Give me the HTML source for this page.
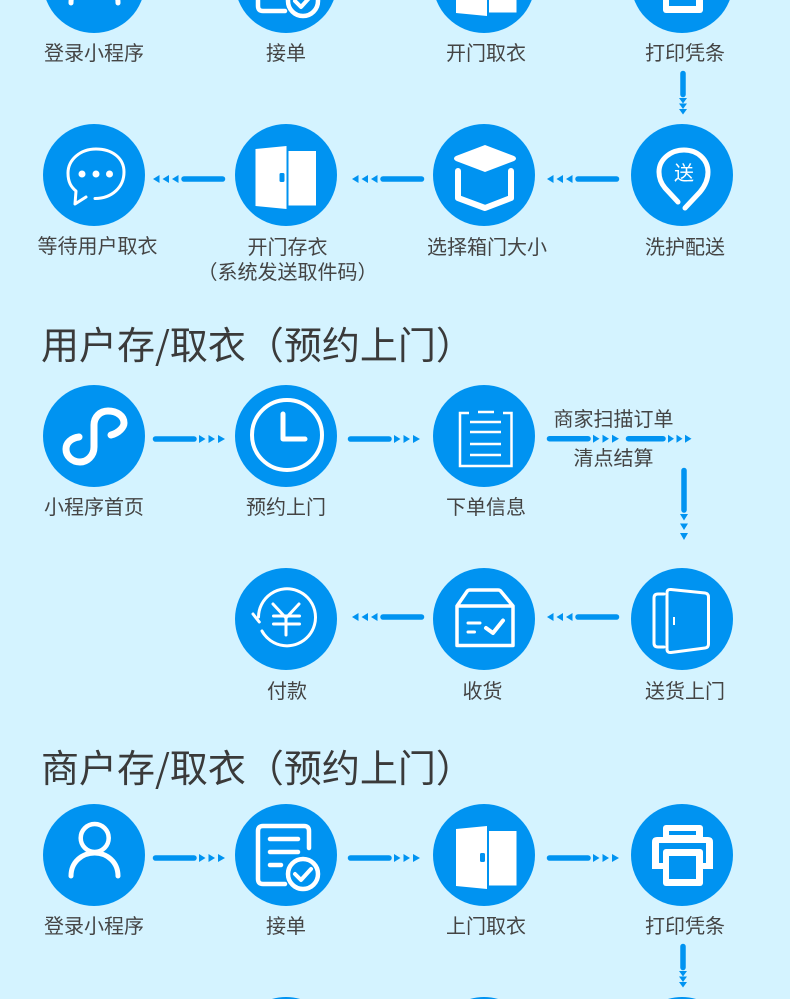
<!DOCTYPE html>
<html lang="zh">
<head>
<meta charset="utf-8">
<title>流程图</title>
<style>
html,body{margin:0;padding:0;background:#d4f3ff;}
body{width:790px;height:999px;overflow:hidden;}
svg{display:block;}
text{font-family:"Liberation Sans","Noto Sans CJK SC",sans-serif;fill:#444;}
.l{font-size:20px;text-anchor:middle;}
.t{font-size:38px;fill:#3a3a3a;font-family:"Noto Sans CJK SC",sans-serif;}
.c{fill:#0093f1;}
.w{fill:none;stroke:#fff;stroke-linecap:round;stroke-linejoin:round;}
.f{fill:#fff;}
.b{fill:#0093f1;}
.ln{stroke:#0093f1;stroke-width:5.5;stroke-linecap:round;fill:none;}
</style>
</head>
<body>
<svg width="790" height="999" viewBox="0 0 790 999" xmlns="http://www.w3.org/2000/svg">
<defs>
  <g id="person">
    <circle cx="0.7" cy="-17" r="14" class="w" stroke-width="4.500"/>
    <path d="M-23 21 C-23 7 -12 -2 0.7 -2 C13 -2 24 7 24 21" class="w" stroke-width="5"/>
  </g>
  <g id="doc">
    <path d="M23 -7 V-24 Q23 -29 18 -29 H-23 Q-28 -29 -28 -24 V24 Q-28 29 -23 29 H-1" class="w" stroke-width="4.500"/>
    <path d="M-16 -16 H12 M-16 -3 H12 M-16 10 H-5" class="w" stroke-width="4.500"/>
    <circle cx="17" cy="19" r="15" class="w" stroke-width="4.500"/>
    <path d="M9 19 L15 25 L25 14" class="w" stroke-width="4"/>
  </g>
  <g id="door">
    <path d="M-28 -26 L3 -29 V34 L-28 31 Z" class="f"/>
    <rect x="5" y="-24" width="27.500" height="54.500" class="f"/>
    <rect x="-4" y="-2" width="5" height="9" rx="1.500" class="b"/>
  </g>
  <g id="printer">
    <rect x="-19" y="-30" width="40" height="16" rx="3" class="f"/>
    <rect x="-13" y="-24" width="27" height="4" class="b"/>
    <path d="M-30 14 V-13 Q-30 -18 -25 -18 H26 Q31 -18 31 -13 V14 Z" class="f"/>
    <rect x="-23" y="-12" width="47" height="20" class="b"/>
    <rect x="-19" y="-6" width="40" height="37" rx="3" class="f"/>
    <rect x="-13" y="1" width="27" height="23" class="b"/>
  </g>
  <g id="rarrow">
    <line x1="3" y1="0" x2="41.500" y2="0" class="ln"/>
    <path d="M46.500 -4 L53 0 L46.500 4 Z M56 -4 L62.500 0 L56 4 Z M65.500 -4 L72.500 0 L65.500 4 Z" class="c"/>
  </g>
  <g id="larrow">
    <line x1="32" y1="0" x2="70.500" y2="0" class="ln"/>
    <path d="M26.500 -4 L20 0 L26.500 4 Z M17 -4 L10.500 0 L17 4 Z M7.500 -4 L1 0 L7.500 4 Z" class="c"/>
  </g>
  <g id="darrow">
    <line x1="0" y1="2.500" x2="0" y2="23.500" class="ln"/>
    <path d="M-4 27 H4 L0 32.500 Z M-4 32.500 H4 L0 38 Z M-4 38 H4 L0 43.500 Z" class="c"/>
  </g>
</defs>

<!-- row 1 -->
<circle cx="94" cy="-18" r="51" class="c"/>
<circle cx="286" cy="-18" r="51" class="c"/>
<circle cx="484" cy="-18" r="51" class="c"/>
<circle cx="682" cy="-18" r="51" class="c"/>
<use href="#person" x="94" y="-18"/>
<use href="#doc" x="286" y="-18"/>
<use href="#door" x="484" y="-18"/>
<use href="#printer" x="682" y="-18"/>
<text class="l" x="94" y="60">登录小程序</text>
<text class="l" x="286" y="60">接单</text>
<text class="l" x="486" y="60">开门取衣</text>
<text class="l" x="685" y="60">打印凭条</text>
<use href="#darrow" x="683" y="71"/>

<!-- row 2 -->
<circle cx="94" cy="175" r="51" class="c"/>
<circle cx="286" cy="175" r="51" class="c"/>
<circle cx="484" cy="175" r="51" class="c"/>
<circle cx="682" cy="175" r="51" class="c"/>
<path d="M95 198.500 C112 198.500 124 187 124 172 C124 158 112 149 96 149 C80 149 68 160 68 173 C68 182 71 187 76 191 L75 204 L86 197" class="w" stroke-width="3"/>
<circle cx="82" cy="174" r="3.500" class="f"/>
<circle cx="96" cy="174" r="3.500" class="f"/>
<circle cx="109.500" cy="174" r="3.500" class="f"/>
<use href="#door" x="283.500" y="175"/>
<path d="M485 145 L514 156 Q518 158.500 514 161 L485 172 L456 161 Q452 158.500 456 156 Z" class="f"/>
<path d="M458 171 V198 L485 208 L511 198 V171" class="w" stroke-width="6"/>
<path d="M678 202 L665 188 C660 182 659 177 659 172 C659 159 671 150 684 150 C698 150 708 160 708 172 C708 180 705 186 700 192 L685 208" class="w" stroke-width="5"/>
<text x="684" y="180" style="font-size:20px;fill:#fff;text-anchor:middle;">送</text>
<use href="#larrow" x="152" y="179"/>
<use href="#larrow" x="351" y="179"/>
<use href="#larrow" x="546" y="179"/>
<text class="l" x="97.500" y="253">等待用户取衣</text>
<text class="l" x="287.500" y="254">开门存衣</text>
<text class="l" x="287.500" y="279">（系统发送取件码）</text>
<text class="l" x="487" y="254">选择箱门大小</text>
<text class="l" x="685" y="254">洗护配送</text>

<!-- title 1 -->
<text class="t" x="41" y="359">用户存/取衣（预约上门）</text>

<!-- row 3 -->
<circle cx="94" cy="436" r="51" class="c"/>
<circle cx="286" cy="436" r="51" class="c"/>
<circle cx="484" cy="436" r="51" class="c"/>
<path d="M111 435 C119 433 124 427 124 423 C124 416 117 411 108 411 C100 411 94 417 94 425 L94 447 C94 456 87 462 80 462 C72 462 66 456 66 449 C66 443 71 438 79 437" class="w" stroke-width="7"/>
<circle cx="287" cy="435" r="35" class="w" stroke-width="4"/>
<path d="M283 414 V439 H305" class="w" stroke-width="5"/>
<path d="M469 413 H460 V466 H511.500 V413 H503" fill="none" stroke="#fff" stroke-width="2.500"/>
<path d="M478 412 H494 M470 422 H501 M470 432 H501 M470 444 H501 M470 455 H501" fill="none" stroke="#fff" stroke-width="2.500"/>
<use href="#rarrow" x="152.500" y="439"/>
<use href="#rarrow" x="347.500" y="439"/>
<use href="#rarrow" x="546.500" y="438.700"/>
<line x1="628.500" y1="438.700" x2="663" y2="438.700" class="ln"/>
<path d="M668 434.700 L674 438.700 L668 442.700 Z M676.500 434.700 L682.500 438.700 L676.500 442.700 Z M685 434.700 L691.500 438.700 L685 442.700 Z" class="c"/>
<line x1="684" y1="470.500" x2="684" y2="510" class="ln"/>
<path d="M680 514 H688 L684 520.500 Z M680 523.500 H688 L684 530 Z M680 533 H688 L684 540 Z" class="c"/>
<text class="l" x="94" y="514">小程序首页</text>
<text class="l" x="286" y="514">预约上门</text>
<text class="l" x="486" y="514">下单信息</text>
<text class="l" x="613.500" y="426">商家扫描订单</text>
<text class="l" x="613.500" y="465">清点结算</text>

<!-- row 4 -->
<circle cx="286" cy="619" r="51" class="c"/>
<circle cx="484" cy="619" r="51" class="c"/>
<circle cx="682" cy="619" r="51" class="c"/>
<path d="M262 631 A28.500 28.500 0 1 0 258.500 617" class="w" stroke-width="3"/>
<path d="M253 614 L259.300 622" class="w" stroke-width="3"/>
<path d="M273 604 L286 618 L299 604 M286 618 V635 M273.500 616 H299.500 M273.500 624 H299.500" class="w" stroke-width="3"/>
<path d="M457 606 L467 591.500 Q468 590 470 590 H498 Q500 590 501 591.500 L513 606 V645.500 H457 Z M457 606 H513" class="w" stroke-width="3.500"/>
<path d="M468 623 H480 M468 632 H474.500" class="w" stroke-width="3"/>
<path d="M486 628 L493 633 L503 620.500" class="w" stroke-width="4"/>
<path d="M664 594 H658 Q654 594 654 598 V643 Q654 647 658 647 H664" class="w" stroke-width="3"/>
<path d="M671 589.500 L705 593 Q708.500 593.500 708.500 597 V644 Q708.500 647.500 705 648 L671 652.500 Q667 653 667 649 V593 Q667 589 671 589.500 Z" class="w" stroke-width="3"/>
<line x1="674" y1="617" x2="674" y2="625" stroke="#fff" stroke-width="2"/>
<use href="#larrow" x="351" y="617"/>
<use href="#larrow" x="546" y="617"/>
<text class="l" x="287" y="698">付款</text>
<text class="l" x="482.500" y="698">收货</text>
<text class="l" x="685" y="698">送货上门</text>

<!-- title 2 -->
<text class="t" x="41" y="782">商户存/取衣（预约上门）</text>

<!-- row 5 -->
<circle cx="94" cy="855" r="51" class="c"/>
<circle cx="286" cy="855" r="51" class="c"/>
<circle cx="484" cy="855" r="51" class="c"/>
<circle cx="682" cy="855" r="51" class="c"/>
<use href="#person" x="94" y="855"/>
<use href="#doc" x="286" y="855"/>
<use href="#door" x="484" y="855"/>
<use href="#printer" x="682" y="855"/>
<use href="#rarrow" x="152.500" y="858"/>
<use href="#rarrow" x="347.500" y="858"/>
<use href="#rarrow" x="546.500" y="858"/>
<use href="#darrow" x="683" y="944"/>
<text class="l" x="94" y="933">登录小程序</text>
<text class="l" x="286" y="933">接单</text>
<text class="l" x="486" y="933">上门取衣</text>
<text class="l" x="685" y="933">打印凭条</text>

<!-- row 6 (tops of circles at the frame edge) -->
<path d="M271.900 999 A51 51 0 0 1 300.100 999 Z" class="c"/>
<path d="M469.900 999 A51 51 0 0 1 498.100 999 Z" class="c"/>
<path d="M667.900 999 A51 51 0 0 1 696.100 999 Z" class="c"/>
</svg>
</body>
</html>
